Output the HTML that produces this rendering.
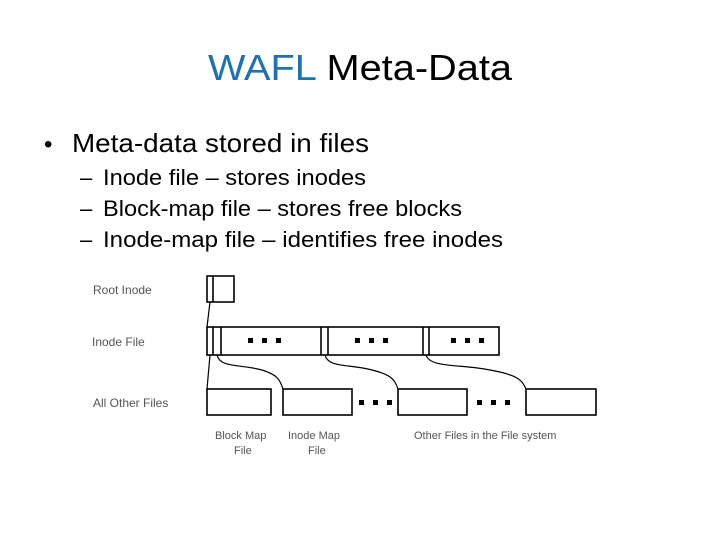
<!DOCTYPE html>
<html><head><meta charset="utf-8"><style>html,body{margin:0;padding:0;background:#fff;}</style></head>
<body>
<svg width="720" height="540" viewBox="0 0 720 540" xmlns="http://www.w3.org/2000/svg" font-family="Liberation Sans, sans-serif">
<rect width="720" height="540" fill="#fff"/>
<text x="208" y="80" font-size="36" textLength="304" lengthAdjust="spacingAndGlyphs"><tspan fill="#1f72b0">WAFL</tspan><tspan fill="#000"> Meta-Data</tspan></text>
<text x="44" y="152" font-size="24">•</text>
<text x="72" y="152" font-size="26" textLength="297" lengthAdjust="spacingAndGlyphs">Meta-data stored in files</text>
<g font-size="22">
<text x="80" y="185">–</text><text x="103" y="185" textLength="263" lengthAdjust="spacingAndGlyphs">Inode file – stores inodes</text>
<text x="80" y="216">–</text><text x="103" y="216" textLength="359" lengthAdjust="spacingAndGlyphs">Block-map file – stores free blocks</text>
<text x="80" y="247">–</text><text x="103" y="247" textLength="400" lengthAdjust="spacingAndGlyphs">Inode-map file – identifies free inodes</text>
</g>
<g font-size="12" fill="#555">
<text x="93" y="294">Root Inode</text>
<text x="92" y="346">Inode File</text>
<text x="93" y="407">All Other Files</text>
<text x="215" y="439" font-size="11">Block Map</text>
<text x="234" y="454" font-size="11">File</text>
<text x="288" y="439" font-size="11">Inode Map</text>
<text x="308" y="454" font-size="11">File</text>
<text x="414" y="439" font-size="11">Other Files in the File system</text>
</g>
<g fill="none" stroke="#000" stroke-width="1.6">
<rect x="207" y="276" width="27" height="26"/>
<line x1="213" y1="276" x2="213" y2="302"/>
<rect x="207" y="327" width="292" height="28"/>
<line x1="213" y1="327" x2="213" y2="355"/>
<line x1="221" y1="327" x2="221" y2="355"/>
<line x1="321" y1="327" x2="321" y2="355"/>
<line x1="328" y1="327" x2="328" y2="355"/>
<line x1="423" y1="327" x2="423" y2="355"/>
<line x1="429" y1="327" x2="429" y2="355"/>
<rect x="207" y="389" width="64" height="26"/>
<rect x="283" y="389" width="69" height="26"/>
<rect x="398" y="389" width="69" height="26"/>
<rect x="526" y="389" width="70" height="26"/>
<g stroke-width="1.2">
<path d="M210 302 L207 327"/>
<path d="M210 355 L207 389"/>
<path d="M217 355 C220 368 240 364 262 370 C278 375 280 380 283 389"/>
<path d="M325 355 C328 368 350 364 372 370 C392 375 395 380 398 389"/>
<path d="M426 355 C430 368 460 364 490 370 C518 375 522 380 526 389"/>
</g>
</g>
<g fill="#000">
<rect x="248" y="338" width="5" height="5"/><rect x="262" y="338" width="5" height="5"/><rect x="276" y="338" width="5" height="5"/>
<rect x="355" y="338" width="5" height="5"/><rect x="369" y="338" width="5" height="5"/><rect x="383" y="338" width="5" height="5"/>
<rect x="451" y="338" width="5" height="5"/><rect x="465" y="338" width="5" height="5"/><rect x="479" y="338" width="5" height="5"/>
<rect x="359" y="400" width="5" height="5"/><rect x="373" y="400" width="5" height="5"/><rect x="387" y="400" width="5" height="5"/>
<rect x="477" y="400" width="5" height="5"/><rect x="491" y="400" width="5" height="5"/><rect x="505" y="400" width="5" height="5"/>
</g>
</svg>
</body></html>
